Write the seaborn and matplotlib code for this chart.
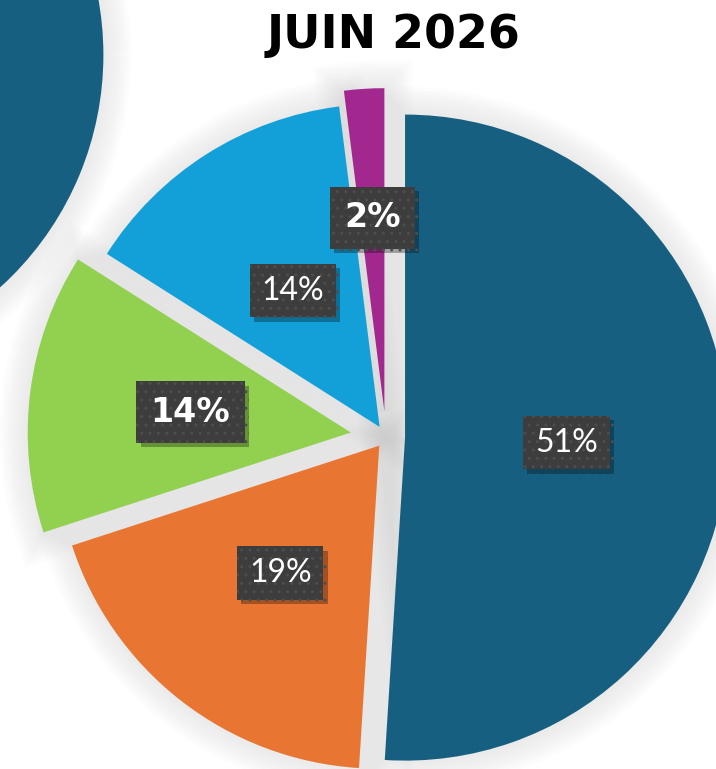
import matplotlib
matplotlib.use("Agg")
import matplotlib.pyplot as plt
import matplotlib.patheffects as pe
from matplotlib.patches import Wedge
import numpy as np
import seaborn as sns

# ---- data ----
title = "JUIN 2026"
shares = [51, 19, 14, 14, 2]
slice_colors = ["#175f80", "#e97532", "#92d050", "#13a0d8", "#a2288f"]
label_bold = [False, False, True, False, True]
explode = [0.059, 0.034, 0.11, 0.037, 0.08]
label_dist = [0.5, 0.5, 0.5, 0.5, 0.6]

# neighbouring (previous) pie, only partly visible
prev_shares = [100]
prev_colors = ["#175f80"]

sns.set_theme(style="white")
plt.rcParams["font.family"] = ["Lato", "DejaVu Sans"]

W, H = 716, 769
fig = plt.figure(figsize=(W / 100, H / 100), dpi=100)
ax = fig.add_axes([0, 0, 1, 1])
ax.set_facecolor("white")

def glow(n=8, maxw=40, color="#b4b4b4", a=0.03):
    effects = []
    for i in range(n):
        lw = maxw * (n - i) / n
        effects.append(pe.Stroke(linewidth=lw, foreground=color, alpha=a))
    return effects

def add_shadow(w):
    s = Wedge(w.center, w.r, w.theta1, w.theta2, facecolor="#ebebeb",
              edgecolor="none", linewidth=0, zorder=0.5)
    s.set_path_effects(glow())
    ax.add_patch(s)

# previous pie (top-left)
pw, _ = ax.pie(prev_shares, colors=prev_colors, radius=0.97, center=(-1.845, 1.183),
               wedgeprops=dict(linewidth=0, zorder=2))
wedges, _ = ax.pie(shares, colors=slice_colors, explode=explode, startangle=90,
                   counterclock=False, radius=1.0,
                   wedgeprops=dict(linewidth=0, zorder=2))
for w in list(pw) + list(wedges):
    add_shadow(w)

for w, v, b, d in zip(wedges, shares, label_bold, label_dist):
    th = np.deg2rad((w.theta1 + w.theta2) / 2)
    cx, cy = w.center
    x = cx + d * w.r * np.cos(th)
    y = cy + d * w.r * np.sin(th)
    if b:
        fam, wt, fs, pad = ["DejaVu Sans"], "bold", 24, 0.43
    else:
        fam, wt, fs, pad = ["Lato", "DejaVu Sans"], "normal", 23, 0.37
    t = ax.text(x, y, f"{v}%", ha="center", va="center", color="white",
                fontsize=fs, fontweight=wt, family=fam,
                bbox=dict(boxstyle=f"square,pad={pad}", facecolor="#3d3d3d",
                          edgecolor="#4d4d4d", linewidth=0, hatch=".."),
                zorder=5)
    t.get_bbox_patch().set_path_effects(
        [pe.SimplePatchShadow(offset=(3, -3), shadow_rgbFace="black", alpha=0.3),
         pe.Normal()])

S = 323.0
cxp, cyp = 386.0, 437.0
ax.set_xlim(-cxp / S, (W - cxp) / S)
ax.set_ylim(-(H - cyp) / S, cyp / S)
ax.set_aspect("equal", adjustable="box")
ax.axis("off")

fig.text(393 / W, 1 - 35 / H, title, ha="center", va="center",
         fontsize=33, fontweight="bold", color="black", family=["DejaVu Sans"])

fig.savefig("out.png", dpi=100, facecolor="white")
